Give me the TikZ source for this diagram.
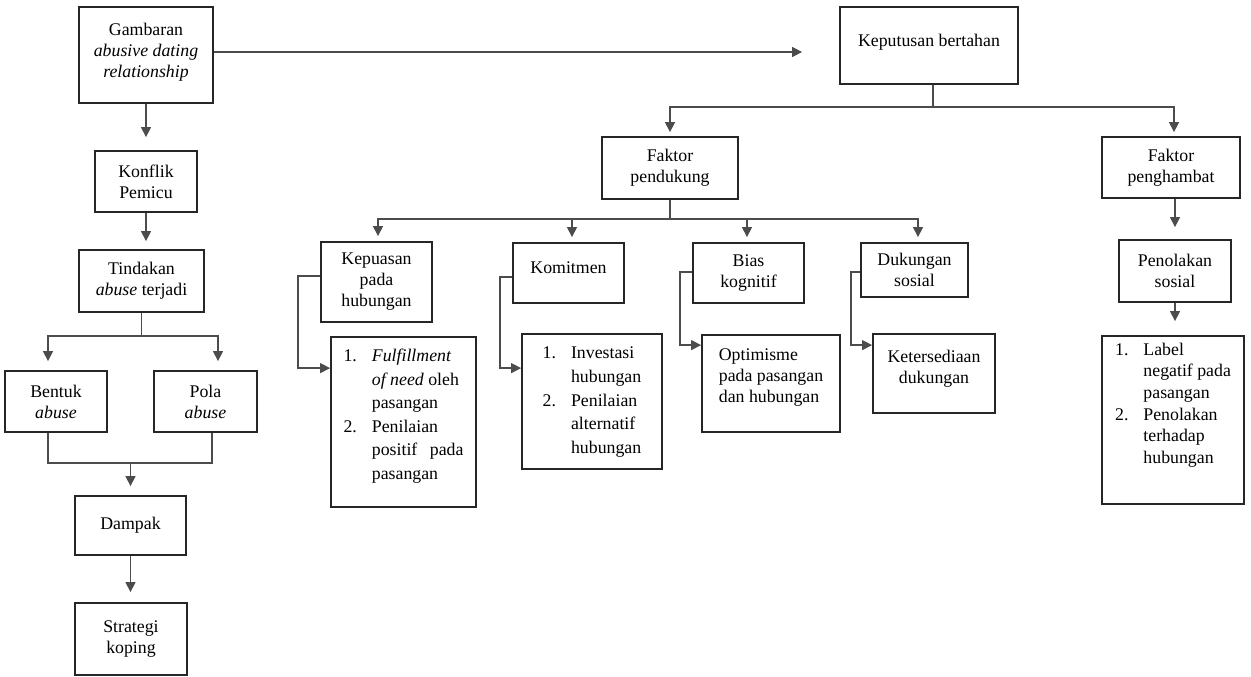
\documentclass[tikz,border=0pt]{standalone}
\usepackage{fontspec}
\setmainfont{Liberation Serif}
\usepackage{xcolor}
\usepackage{tikz}
\usetikzlibrary{arrows.meta,positioning}
\tikzset{kotak/.style={
    % The shape:
    rectangle,inner sep=0pt,align=center,
    % The rest
    line width=1.8pt,draw=black!85,
    font=\fontsize{17.8}{21}\selectfont
  },
  garis/.style={line width=1.3pt,draw=black!70},
  panah/.style={garis,-{Triangle[length=10pt,width=10pt]}}
}
\newcommand{\daftar}[2]{{\renewcommand{\arraystretch}{#1}%
  \begin{tabular}{@{}l@{\hspace{15pt}}l@{}}#2\end{tabular}}}

\begin{document}
\begin{tikzpicture}[x=1pt,y=-1pt]
  \useasboundingbox (0,0) rectangle (1251,677);

  % left column
  \node (gambaran) [kotak,minimum width=134,minimum height=96] at (146,55) {
    \begin{tabular}{@{}c@{}}
      Gambaran\\ \textit{abusive dating}\\ \textit{relationship}\\[6pt]
    \end{tabular}};
  \node (konflik) [kotak,minimum width=102,minimum height=61] at (146,181.5) {
    Konflik\\ Pemicu};
  \node (tindakan) [kotak,minimum width=125,minimum height=62] at (141.5,281) {
    Tindakan\\ \textit{abuse} terjadi};
  \node (bentuk) [kotak,minimum width=102,minimum height=61] at (56,401.5) {
    Bentuk\\ \textit{abuse}};
  \node (pola) [kotak,minimum width=103,minimum height=61] at (205.5,401.5) {
    Pola\\ \textit{abuse}};
  \node (dampak) [kotak,minimum width=111,minimum height=59] at (130.5,525.5) {
    Dampak};
  \node (strategi) [kotak,minimum width=112,minimum height=72] at (131,639) {
    Strategi\\ koping};

  % decision and factors
  \node (keputusan) [kotak,minimum width=178,minimum height=77] at (929,45.5) {
    \begin{tabular}{@{}c@{}}
      Keputusan bertahan\\[6pt]
    \end{tabular}};
  \node (pendukung) [kotak,minimum width=136,minimum height=62] at (670,168) {
    Faktor\\ pendukung};
  \node (penghambat) [kotak,minimum width=138,minimum height=61] at (1171,167.5) {
    Faktor\\ penghambat};

  \node (kepuasan) [kotak,minimum width=111,minimum height=80] at (376.5,282) {
    Kepuasan\\ pada\\ hubungan};
  \node (komitmen) [kotak,minimum width=111,minimum height=60] at (568.5,273) {
    \begin{tabular}{@{}c@{}}
      Komitmen\\[8pt]
    \end{tabular}};
  \node (bias) [kotak,minimum width=111,minimum height=60] at (748.5,273) {
    Bias\\ kognitif};
  \node (dukungan) [kotak,minimum width=107,minimum height=54] at (914.5,270) {
    Dukungan\\ sosial};

  \node (fulfill) [kotak,minimum width=145,minimum height=170] at (403.5,422) {
    \daftar{1.12}{1. & \textit{Fulfillment}\\
      & \textit{of need} oleh\\
      & pasangan\\
      2. & Penilaian\\
      & positif\hspace{0.7em}pada\\
      & pasangan\\[12pt]}};
  \node (investasi) [kotak,minimum width=140,minimum height=135] at (592,401.5) {
    \daftar{1.13}{1. & Investasi\\
      & hubungan\\
      2. & Penilaian\\
      & alternatif\\
      & hubungan}};
  \node (optimisme) [kotak,minimum width=138,minimum height=97] at (771,383.5) {
    \begin{tabular}{@{}l@{}}
      Optimisme\\ pada pasangan\\ dan hubungan\\[12pt]
    \end{tabular}};
  \node (ketersediaan) [kotak,minimum width=122,minimum height=79] at (934,373.5) {
    \begin{tabular}{@{}c@{}}
      Ketersediaan\\ dukungan\\[10pt]
    \end{tabular}};

  \node (penolakan) [kotak,minimum width=112,minimum height=62] at (1175,271) {
    Penolakan\\ sosial};
  \node (label) [kotak,minimum width=142,minimum height=168] at (1173,420) {
    \daftar{1.03}{1. & Label\\
      & negatif pada\\
      & pasangan\\
      2. & Penolakan\\
      & terhadap\\
      & hubungan\\[30pt]}};

  % connectors, left column
  \draw[panah,shorten >=13pt] (gambaran) -- (konflik);
  \draw[panah,shorten >=8pt] (konflik.south) -- (konflik.south |- tindakan.north);
  \coordinate (cabA) at (141.5,336);
  \draw[garis] (tindakan) -- (cabA);
  \draw[panah,shorten >=9pt] (cabA) -| ([xshift=-8pt]bentuk.north);
  \draw[panah,shorten >=9pt] (cabA) -| ([xshift=12.5pt]pola.north);
  \coordinate (cabB) at (130.5,463);
  \draw[garis] ([xshift=-8pt]bentuk.south) |- (cabB);
  \draw[garis] ([xshift=6.5pt]pola.south) |- (cabB);
  \draw[panah,shorten >=9pt] (cabB) -- (dampak);
  \draw[panah,shorten >=10pt] (dampak.south) -- (dampak.south |- strategi.north);

  % connectors, right part
  \coordinate (kiri) at ([yshift=3pt]gambaran.east);
  \draw[panah,shorten >=37pt] (kiri) -- (kiri -| keputusan.west);
  \coordinate (cabC) at (933,107);
  \draw[garis] ([xshift=4pt]keputusan.south) -- (cabC);
  \draw[panah,shorten >=4pt] (cabC) -| (pendukung.north);
  \draw[panah,shorten >=4pt] (cabC) -| ([xshift=3pt]penghambat.north);
  \coordinate (cabD) at (670,219);
  \draw[garis] (pendukung) -- (cabD);
  \foreach \anak/\geser in {kepuasan/1.5,komitmen/3.5,bias/-1.5,dukungan/3.5}
    \draw[panah,shorten >=5pt] (cabD) -| ([xshift=\geser]\anak.north);

  \draw[panah] ([yshift=6pt]kepuasan.west) -- ++(-22,0) |- ([yshift=-32pt]fulfill.north west);
  \draw[panah] ([yshift=-4pt]komitmen.west) -- ++(-12,0) |- ([yshift=-35pt]investasi.north west);
  \draw[panah] ([yshift=1pt]bias.west) -- ++(-12,0) |- ([yshift=-11pt]optimisme.north west);
  \draw[panah] ([yshift=-2pt]dukungan.west) -- ++(-9,0) |- ([yshift=-12pt]ketersediaan.north west);

  \draw[panah,shorten >=12pt] (penghambat.south -| penolakan) -- (penolakan);
  \draw[panah,shorten >=14pt] (penolakan.south) -- (penolakan.south |- label.north);
\end{tikzpicture}
\end{document}
